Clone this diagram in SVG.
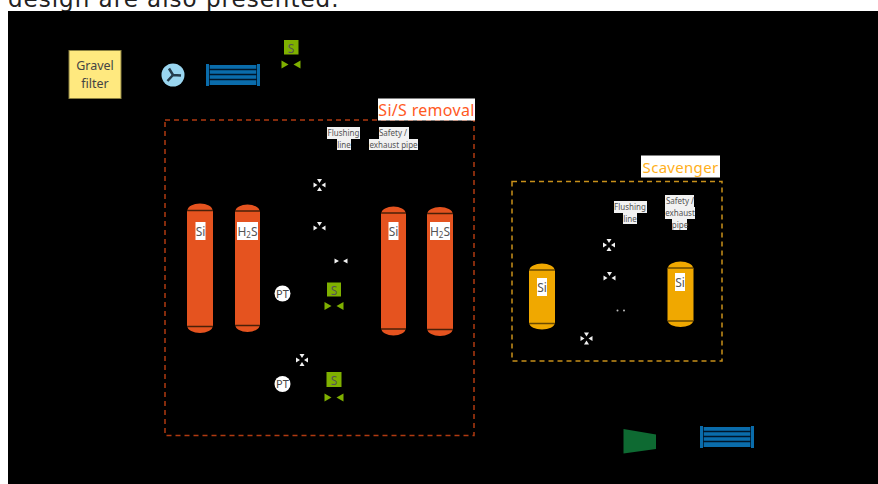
<svg xmlns="http://www.w3.org/2000/svg" width="878" height="484" viewBox="0 0 878 484">
<defs>
<style>
text{font-family:"Noto Sans","Open Sans","DejaVu Sans",sans-serif;text-anchor:middle}
.t{font-size:8px;fill:#555}
.v{font-size:12px;fill:#555}
.o{fill:#e5531f}
.y{fill:#f0a800}
.cap{stroke-width:1.5;stroke:#4a2008;fill:none}
.capy{stroke-width:1.500;stroke:#6a4a00;fill:none}
.w{fill:#f2f2f2}
.g{fill:#7fb000}
.b{fill:#0a6cab}
</style>
<g id="v4"><path class="w" d="M-6-2.500L-2 0-6 2.500ZM6-2.500L2 0 6 2.500ZM-2.500-6L2.500-6 0-2ZM-2.500 6L2.500 6 0 2Z"/></g>
<g id="v3"><path class="w" d="M-6 1.500L-2 4-6 6.500ZM6 1.500L2 4 6 6.500ZM-2.500-2L2.500-2 0 2Z"/></g>
<g id="sv"><path class="g" d="M-9.500-4L-2.500 0-9.500 4ZM9.500-4L2.500 0 9.500 4Z"/></g>
<g id="hx"><rect x="0" y="1" width="54" height="20" class="b"/><path d="M2 5.500H52M2 10.500H52M2 15.500H52" stroke="#00162a" stroke-width="1.300"/><path d="M1.500 0V22M52.500 0V22" stroke="#0a6cab" stroke-width="3"/><path d="M3.500 1V21M50.500 1V21" stroke="#00162a" stroke-width=".8"/></g>
</defs>
<rect width="878" height="484" fill="#fff"/>
<text x="8" y="6.500" style="font-family:'DejaVu Sans',sans-serif;font-size:23px;letter-spacing:1px;text-anchor:start" fill="#222">design are also presented.</text>
<rect x="8" y="11" width="870" height="473" fill="#000"/>

<g id="connectors" fill="none" stroke-width="1.500" stroke-dasharray="5 4">
<rect id="si-s-box" x="165" y="120" width="309" height="315.500" stroke="#b03a10"/>
<rect id="scavenger-box" x="512" y="181.500" width="210" height="179.500" stroke="#c8901a"/>
</g>

<g id="gravel-filter"><rect x="69" y="50.500" width="52" height="48" fill="#ffe97f" stroke="#8a8040"/><text x="95" y="70" font-size="12.500" fill="#444">Gravel</text><text x="95" y="88" font-size="12.500" fill="#444">filter</text></g>
<g id="pump"><circle cx="173" cy="75" r="11.500" fill="#9ad6f0"/><path d="M173 75L169 68.500M173 75L181 75.500M173 75L167.500 81" fill="none" stroke="#243c4c" stroke-width="2.500"/></g>
<g id="cooler-1"><use href="#hx" x="206" y="64"/></g>
<g id="sv-1"><rect x="284" y="40" width="14.500" height="14.500" class="g"/><text x="291" y="52.500" class="v">S</text><use href="#sv" x="291" y="64.500"/></g>

<g id="si-s-label"><rect x="378" y="98.500" width="97" height="22" fill="#fff"/><text x="426.500" y="115.500" font-size="16" fill="#ff5a1f" style="letter-spacing:.3px">Si/S removal</text></g>
<g id="flushing-1"><rect x="327" y="127" width="33" height="12" class="w"/><rect x="337" y="139" width="14" height="11" class="w"/><text x="343.500" y="136" class="t">Flushing</text><text x="344" y="148" class="t">line</text></g>
<g id="safety-1"><rect x="379" y="127" width="30" height="12" class="w"/><rect x="369" y="139" width="49" height="11" class="w"/><text x="393" y="136" class="t">Safety /</text><text x="393.500" y="148" class="t">exhaust pipe</text></g>

<g id="v-1"><use href="#v4" x="319.500" y="185"/></g>
<g id="v-2"><use href="#v3" x="319.500" y="224"/></g>
<g id="v-3"><path class="w" d="M334.500 258.500L339 261 334.500 263.500ZM347.500 258.500L343 261 347.500 263.500Z"/></g>
<g id="v-4"><use href="#v4" x="302" y="360"/></g>

<g id="vessel-si-1"><rect x="187" y="210.500" width="26" height="116" class="o"/><path class="o" d="M187.500 210.500A12.500 7 0 0 1 212.500 210.500ZM187.500 326.500A12.500 6.500 0 0 0 212.500 326.500Z"/><path class="cap" d="M187 210.500H213M187 326.500H213"/><rect x="195.500" y="222" width="10" height="18" fill="#fff"/><text x="200.500" y="235.500" class="v">Si</text></g>
<g id="vessel-h2s-1"><rect x="235" y="211" width="25" height="114.500" class="o"/><path class="o" d="M235.500 211A12 6.500 0 0 1 259.500 211ZM235.500 325.500A12 6.500 0 0 0 259.500 325.500Z"/><path class="cap" d="M235 211H260M235 325.500H260"/><rect x="237" y="222" width="21" height="18" fill="#fff"/><text x="247.500" y="235.500" class="v">H<tspan font-size="8" dy="2">2</tspan><tspan dy="-2">S</tspan></text></g>
<g id="vessel-si-2"><rect x="381" y="213" width="25" height="116" class="o"/><path class="o" d="M381.500 213A12 6.500 0 0 1 405.500 213ZM381.500 329A12 6.500 0 0 0 405.500 329Z"/><path class="cap" d="M381 213H406M381 329H406"/><rect x="388.500" y="222" width="10" height="18" fill="#fff"/><text x="393.500" y="235.500" class="v">Si</text></g>
<g id="vessel-h2s-2"><rect x="427" y="213.500" width="26" height="116" class="o"/><path class="o" d="M427.500 213.500A12.500 6.500 0 0 1 452.500 213.500ZM427.500 329.500A12.500 6.500 0 0 0 452.500 329.500Z"/><path class="cap" d="M427 213.500H453M427 329.500H453"/><rect x="430" y="222" width="20" height="18" fill="#fff"/><text x="440" y="235.500" class="v">H<tspan font-size="8" dy="2">2</tspan><tspan dy="-2">S</tspan></text></g>

<g id="pt-1"><circle cx="282.500" cy="293.500" r="8" fill="#fff"/><text x="282.500" y="297.500" font-size="11" fill="#444">PT</text></g>
<g id="pt-2"><circle cx="282.500" cy="384" r="8" fill="#fff"/><text x="282.500" y="388" font-size="11" fill="#444">PT</text></g>
<g id="sv-2"><rect x="327" y="282.500" width="14" height="14" class="g"/><text x="334" y="294.500" class="v">S</text><use href="#sv" x="334" y="306"/></g>
<g id="sv-3"><rect x="326.500" y="372" width="15" height="15" class="g"/><text x="334" y="384.500" class="v">S</text><use href="#sv" x="334" y="397.500"/></g>

<g id="scavenger-label"><rect x="641" y="155.500" width="79" height="22" fill="#fff"/><text x="680.500" y="172.500" font-size="15" fill="#ffb020" style="letter-spacing:.3px">Scavenger</text></g>
<g id="flushing-2"><rect x="614" y="201" width="33" height="12" class="w"/><rect x="623" y="213" width="14" height="11" class="w"/><text x="630" y="210" class="t">Flushing</text><text x="630" y="222" class="t">line</text></g>
<g id="safety-2"><rect x="665" y="195" width="29" height="12" class="w"/><rect x="665" y="207" width="30" height="12" class="w"/><rect x="672" y="219" width="15" height="11" class="w"/><text x="680" y="204" class="t">Safety /</text><text x="680" y="216" class="t">exhaust</text><text x="680" y="228" class="t">pipe</text></g>
<g id="v-5"><use href="#v4" x="609" y="245"/></g>
<g id="v-6"><use href="#v3" x="609.500" y="274"/></g>
<g id="v-7"><circle cx="617.500" cy="310.500" r="1" fill="#bbb"/><circle cx="624" cy="310.500" r="1" fill="#bbb"/></g>
<g id="v-8"><use href="#v4" x="586.500" y="338.500"/></g>
<g id="vessel-si-3"><rect x="529" y="270" width="26" height="53.500" class="y"/><path class="y" d="M529.500 270A12.500 6.500 0 0 1 554.500 270ZM529.500 323.500A12.500 6 0 0 0 554.500 323.500Z"/><path class="capy" d="M529 270H555M529 323.500H555"/><rect x="537" y="278" width="10" height="18" fill="#fff"/><text x="542" y="291.500" class="v">Si</text></g>
<g id="vessel-si-4"><rect x="667.500" y="268" width="26" height="53" class="y"/><path class="y" d="M668 268A12.500 6.500 0 0 1 693 268ZM668 321A12.500 6 0 0 0 693 321Z"/><path class="capy" d="M667.500 268H693.500M667.500 321H693.500"/><rect x="675" y="273" width="10" height="18" fill="#fff"/><text x="680" y="286.500" class="v">Si</text></g>

<g id="compressor"><path d="M623.500 429L656 434.500V449L623.500 453.500Z" fill="#0e6a32"/></g>
<g id="cooler-2"><use href="#hx" x="700" y="426"/></g>
</svg>
